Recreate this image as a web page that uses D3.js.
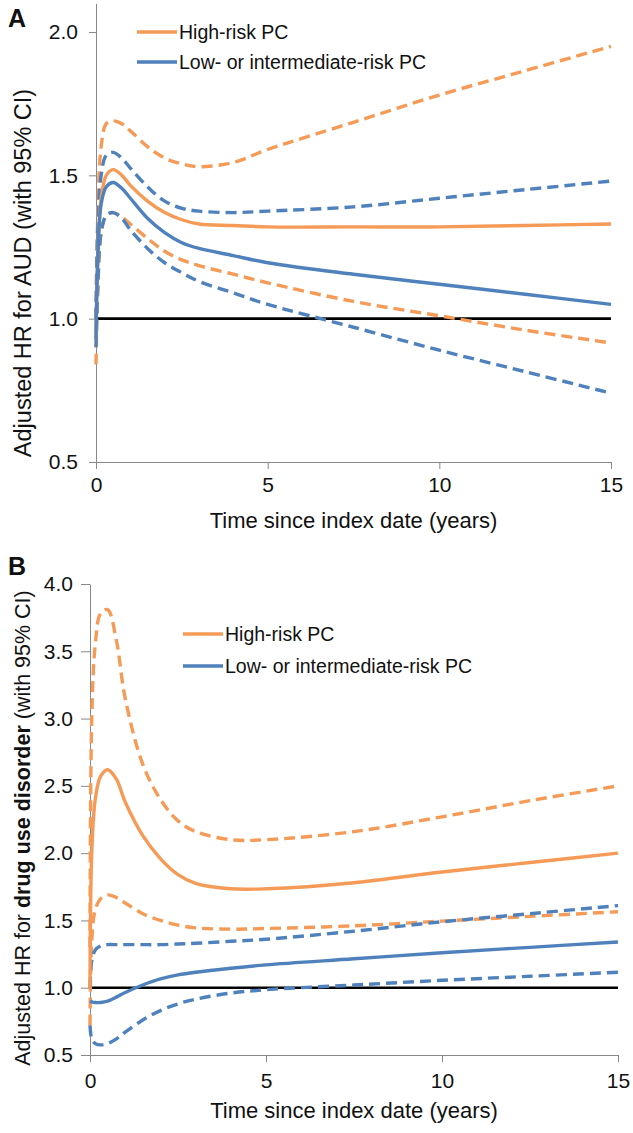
<!DOCTYPE html>
<html>
<head>
<meta charset="utf-8">
<script src="https://cdn.jsdelivr.net/npm/d3@7"></script>
<style>
  html, body { margin: 0; padding: 0; background: #fff; }
  svg { display: block; font-family: "Liberation Sans", Arial, sans-serif; }
</style>
</head>
<body>
<svg id="chart" width="633" height="1133"></svg>
<script>
// ---------- data ----------
const times = [0, 0.05, 0.15, 0.3, 0.5, 0.75, 1, 1.5, 2, 2.5, 3, 4, 5, 7.5, 10, 12.5, 15];

// Panel A: AUD
const audHighHR = [0.93, 1.20, 1.42, 1.50, 1.52, 1.50, 1.465, 1.41, 1.37, 1.345, 1.33, 1.325, 1.32, 1.32, 1.32, 1.325, 1.33];
const audHighLo = [0.84, 1.10, 1.30, 1.36, 1.37, 1.355, 1.33, 1.28, 1.235, 1.205, 1.185, 1.155, 1.125, 1.06, 1.01, 0.96, 0.915];
const audHighUp = [1.00, 1.35, 1.60, 1.68, 1.69, 1.68, 1.655, 1.60, 1.56, 1.54, 1.53, 1.545, 1.59, 1.685, 1.78, 1.865, 1.95];
const audLowHR  = [0.93, 1.20, 1.40, 1.46, 1.475, 1.455, 1.42, 1.35, 1.30, 1.265, 1.245, 1.22, 1.195, 1.155, 1.12, 1.085, 1.05];
const audLowLo  = [0.90, 1.10, 1.30, 1.36, 1.37, 1.35, 1.31, 1.245, 1.195, 1.16, 1.13, 1.09, 1.05, 0.97, 0.89, 0.815, 0.74];
const audLowUp  = [1.00, 1.30, 1.50, 1.57, 1.58, 1.56, 1.525, 1.46, 1.41, 1.385, 1.375, 1.37, 1.375, 1.39, 1.42, 1.45, 1.48];

// Panel B: drug use disorder
const dudHighHR = [1.00, 2.00, 2.40, 2.57, 2.62, 2.55, 2.38, 2.13, 1.96, 1.84, 1.775, 1.735, 1.735, 1.78, 1.86, 1.93, 2.00];
const dudHighLo = [0.72, 1.35, 1.58, 1.66, 1.69, 1.67, 1.63, 1.55, 1.50, 1.465, 1.445, 1.435, 1.44, 1.46, 1.495, 1.53, 1.565];
const dudHighUp = [1.30, 3.00, 3.55, 3.78, 3.81, 3.58, 3.15, 2.66, 2.40, 2.24, 2.16, 2.10, 2.10, 2.16, 2.27, 2.39, 2.50];
const dudLowHR  = [0.90, 0.895, 0.89, 0.89, 0.90, 0.93, 0.965, 1.02, 1.065, 1.095, 1.115, 1.145, 1.17, 1.215, 1.26, 1.30, 1.34];
const dudLowLo  = [0.72, 0.62, 0.585, 0.575, 0.585, 0.62, 0.67, 0.76, 0.83, 0.88, 0.915, 0.96, 0.985, 1.02, 1.055, 1.085, 1.115];
const dudLowUp  = [1.00, 1.20, 1.28, 1.31, 1.32, 1.32, 1.32, 1.32, 1.32, 1.325, 1.33, 1.345, 1.36, 1.42, 1.49, 1.55, 1.61];

const xTicks = [0, 5, 10, 15];
const yTicksA = [0.5, 1.0, 1.5, 2.0];
const yTicksB = [0.5, 1.0, 1.5, 2.0, 2.5, 3.0, 3.5, 4.0];
const legendLabels = ["High-risk PC", "Low- or intermediate-risk PC"];
const seriesColors = ["#F59B57", "#4F81BD"];

// ---------- drawing ----------
const svg = d3.select("#chart");
const AXIS_COL = "#888";

function panel(cfg) {
  const g = svg.append("g");
  const x = d3.scaleLinear().domain([0, 15]).range([cfg.x0, cfg.x1]);
  const y = d3.scaleLinear().domain([cfg.yMin, cfg.yMax]).range([cfg.yBottom, cfg.yTop]);

  // y axis
  const ya = g.append("g").attr("transform", `translate(${cfg.x0},0)`)
    .call(d3.axisLeft(y).tickValues(cfg.yTicks).tickSize(cfg.yTickLen).tickSizeOuter(0)
      .tickPadding(cfg.yPad).tickFormat(d3.format(".1f")));
  ya.select(".domain").attr("stroke", AXIS_COL);
  ya.selectAll(".tick line").attr("stroke", AXIS_COL);
  ya.selectAll(".tick text").attr("font-size", cfg.tickFont).attr("fill", "#111")
    .attr("font-family", "Liberation Sans, Arial, sans-serif");

  // x axis
  const xa = g.append("g").attr("transform", `translate(0,${cfg.yBottom})`)
    .call(d3.axisBottom(x).tickValues(xTicks).tickSize(cfg.xTickLen).tickSizeOuter(0)
      .tickPadding(cfg.xPad).tickFormat(d3.format("d")));
  xa.select(".domain").attr("stroke", AXIS_COL);
  xa.selectAll(".tick line").attr("stroke", AXIS_COL);
  xa.selectAll(".tick text").attr("font-size", cfg.tickFont).attr("fill", "#111")
    .attr("font-family", "Liberation Sans, Arial, sans-serif");

  // reference line at HR = 1
  g.append("line")
    .attr("x1", x(0)).attr("x2", x(15))
    .attr("y1", y(1)).attr("y2", y(1))
    .attr("stroke", "#000").attr("stroke-width", 2.6);

  const line = d3.line().x((d, i) => x(times[i])).y(d => y(d)).curve(d3.curveCatmullRom.alpha(0.5));

  const series = [
    { v: cfg.data[0][1], c: seriesColors[0], dash: true },
    { v: cfg.data[0][2], c: seriesColors[0], dash: true },
    { v: cfg.data[1][1], c: seriesColors[1], dash: true },
    { v: cfg.data[1][2], c: seriesColors[1], dash: true },
    { v: cfg.data[0][0], c: seriesColors[0], dash: false },
    { v: cfg.data[1][0], c: seriesColors[1], dash: false }
  ];
  series.forEach(s => {
    g.append("path").datum(s.v)
      .attr("d", line)
      .attr("fill", "none")
      .attr("stroke", s.c)
      .attr("stroke-width", 3.4)
      .attr("stroke-dasharray", s.dash ? "11,6" : null);
  });

  // legend
  legendLabels.forEach((lab, i) => {
    const ly = cfg.legY + i * cfg.legGap;
    g.append("line").attr("x1", cfg.legX).attr("x2", cfg.legX + 40)
      .attr("y1", ly).attr("y2", ly)
      .attr("stroke", seriesColors[i]).attr("stroke-width", 3.4);
    g.append("text").attr("x", cfg.legX + 42).attr("y", ly + 7)
      .attr("font-size", cfg.legFont).attr("fill", "#111").text(lab);
  });

  // panel letter
  g.append("text").attr("x", 8).attr("y", cfg.letterY)
    .attr("font-size", 25).attr("font-weight", "bold").attr("fill", "#111").text(cfg.letter);

  // x title
  g.append("text").attr("x", (cfg.x0 + cfg.x1) / 2).attr("y", cfg.xTitleY)
    .attr("text-anchor", "middle").attr("font-size", cfg.titleFont).attr("fill", "#111")
    .text("Time since index date (years)");

  // y title
  const yt = g.append("text")
    .attr("transform", `translate(${cfg.yTitleX},${cfg.yTitleCY}) rotate(-90)`)
    .attr("text-anchor", "middle").attr("font-size", cfg.yTitleFont).attr("fill", "#111");
  cfg.yTitle.forEach(p => {
    yt.append("tspan").attr("font-weight", p.bold ? "bold" : null).text(p.t);
  });
}

panel({
  letter: "A", letterY: 27,
  x0: 96, x1: 611, yBottom: 462, yTop: 3.3, yMin: 0.5, yMax: 2.1,
  yTicks: yTicksA, yTickLen: 7, yPad: 11, xTickLen: 7, xPad: 8,
  tickFont: 21, legFont: 19.5, titleFont: 22, yTitleFont: 23.5,
  legX: 137, legY: 32, legGap: 30,
  xTitleY: 528, yTitleX: 31, yTitleCY: 273,
  yTitle: [{ t: "Adjusted HR for AUD (with 95% CI)" }],
  data: [[audHighHR, audHighLo, audHighUp], [audLowHR, audLowLo, audLowUp]]
});

panel({
  letter: "B", letterY: 575,
  x0: 90, x1: 618, yBottom: 1055, yTop: 584, yMin: 0.5, yMax: 4.0,
  yTicks: yTicksB, yTickLen: 9, yPad: 8, xTickLen: 7, xPad: 11,
  tickFont: 21, legFont: 19.5, titleFont: 22, yTitleFont: 21.5,
  legX: 183, legY: 634, legGap: 32,
  xTitleY: 1118, yTitleX: 30, yTitleCY: 828,
  yTitle: [{ t: "Adjusted HR for " }, { t: "drug use disorder", bold: true }, { t: " (with 95% CI)" }],
  data: [[dudHighHR, dudHighLo, dudHighUp], [dudLowHR, dudLowLo, dudLowUp]]
});
</script>
</body>
</html>
